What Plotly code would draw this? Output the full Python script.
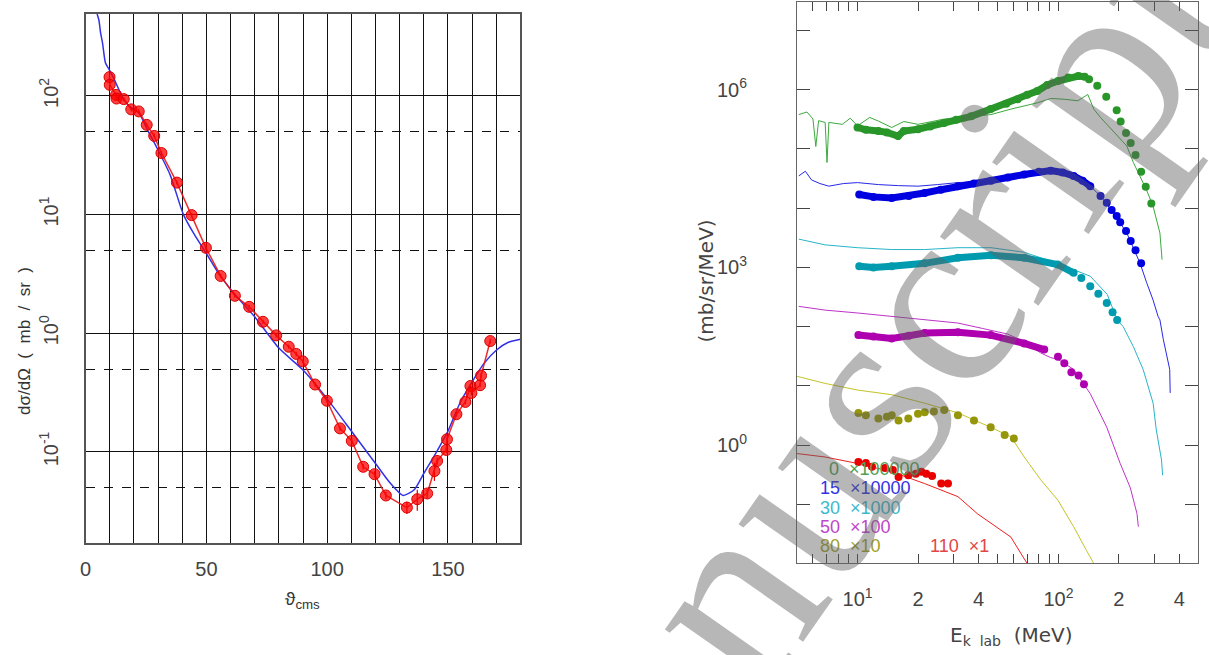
import plotly.graph_objects as go

W, H = 1209, 655

# ---------------- Left panel data ----------------
theta_exp = [9.9, 10.0, 12.6, 12.8, 15.8, 18.9, 22.0, 25.3, 28.4, 31.4, 37.8, 43.9, 49.8, 55.9,
             61.8, 67.7, 73.4, 78.9, 84.1, 87.2, 89.9, 95.0, 99.9, 105.3, 110.2, 114.9, 119.6,
             124.3, 133.0, 137.3, 141.4, 144.4, 145.5, 149.3, 149.6, 153.5, 157.2, 159.3, 159.7,
             163.3, 163.7, 167.5]
xs_exp = [144, 124, 102, 95, 94, 77, 74, 57, 46, 33, 18.6, 9.9, 5.25, 3.04,
          2.07, 1.67, 1.25, 0.96, 0.77, 0.67, 0.58, 0.37, 0.27, 0.158, 0.124, 0.075, 0.065,
          0.043, 0.034, 0.040, 0.0447, 0.069, 0.084, 0.104, 0.128, 0.208, 0.264, 0.36, 0.314,
          0.365, 0.44, 0.86]
xs_err = [6, 5, 4, 4, 4, 3, 3, 2, 2, 1.3, 0.7, 0.4, 0.2, 0.12,
          0.08, 0.07, 0.05, 0.04, 0.03, 0.03, 0.02, 0.015, 0.01, 0.007, 0.006, 0.004, 0.004,
          0.003, 0.004, 0.008, 0.004, 0.012, 0.006, 0.006, 0.007, 0.01, 0.012, 0.015, 0.014,
          0.015, 0.02, 0.04]

theta_th = [4.4, 4.8, 5.5, 6.2, 7.0, 8.2, 9.6, 12, 15.1, 18, 22, 26, 30, 35, 40.5, 45, 50, 55,
            62, 70, 80, 90, 100, 110, 120, 126, 131.4, 136, 140, 145, 150, 155, 160, 165, 170,
            175, 180]
xs_th = [900, 490, 436, 340, 280, 190, 169, 136, 99, 82, 72, 50, 35, 21.6, 10, 6.8, 4.7, 3.2,
         2.1, 1.38, 0.75, 0.49, 0.28, 0.15, 0.08, 0.055, 0.043, 0.048, 0.066, 0.098, 0.15,
         0.26, 0.39, 0.56, 0.72, 0.84, 0.89]

left_y_ticks = [0.1, 1, 10, 100]
left_y_text = ["10<sup>-1</sup>", "10<sup>0</sup>", "10<sup>1</sup>", "10<sup>2</sup>"]
left_y_dashed = [0.05, 0.5, 5, 50]
left_x_ticks = list(range(0, 181, 10))
left_x_text = [str(v) if v in (0, 50, 100, 150) else "" for v in left_x_ticks]

# ---------------- Right panel data ----------------
green_line_E = [5.1, 5.6, 6.0, 6.2, 6.4, 6.9, 7.05, 7.2, 8.4, 9.2, 10, 11.5, 12.7, 14.8, 17, 20,
                27.1, 34.1, 46.2, 58, 78.5, 91.5, 106.7, 125, 140, 150, 162, 196, 219, 236,
                255, 275, 296, 320, 328]
green_line_y = [3.8e5, 4.2e5, 3.2e5, 1.1e5, 3.0e5, 2.8e5, 5.9e4, 2.8e5, 2.6e5, 3.3e5, 2.45e5,
                3.4e5, 2.95e5, 2.3e5, 2.9e5, 2.6e5, 3.2e5, 3.4e5, 3.8e5, 4.7e5, 6.0e5, 7.1e5,
                6.9e5, 6.5e5, 8.3e5, 4.7e5, 3.4e5, 1.66e5, 1.12e5, 5.9e4, 3.5e4, 2.0e4, 1.07e4,
                3.8e3, 1.35e3]
green_dense_E = [10, 11, 12.7, 14, 15.9, 17, 20, 23, 27, 31, 36.8, 46, 55, 62.7, 70, 78.5, 88,
                 99.5, 112, 125.6, 135]
green_dense_y = [2.3e5, 2.1e5, 2.0e5, 1.9e5, 1.65e5, 2.0e5, 2.15e5, 2.4e5, 2.75e5, 3.1e5,
                 3.55e5, 4.7e5, 5.8e5, 6.9e5, 8.2e5, 9.5e5, 1.2e6, 1.4e6, 1.6e6, 1.7e6, 1.65e6]
green_dots_E = [142, 156, 173, 195, 204, 217, 229, 242, 258, 272, 290]
green_dots_y = [1.5e6, 1.17e6, 7.6e5, 4.5e5, 2.9e5, 1.86e5, 1.26e5, 7.9e4, 4.1e4, 2.3e4, 1.2e4]

blue_line_E = [5.1, 5.5, 5.9, 6.5, 7.2, 8.5, 10, 12.7, 16, 20, 25, 31.6, 46.2, 67.6, 91.5, 119,
               144, 162, 188, 219, 255, 275, 296, 313, 320, 333, 358, 360]
blue_line_y = [3.5e4, 4.2e4, 3.0e4, 2.6e4, 2.35e4, 2.6e4, 2.7e4, 2.5e4, 2.4e4, 2.35e4, 2.5e4,
               2.7e4, 2.9e4, 3.5e4, 4.1e4, 3.5e4, 2.35e4, 1.6e4, 8.3e3, 3.8e3, 1.17e3, 550,
               280, 150, 130, 60, 19, 7.6]
blue_dense_E = [10.2, 12, 14.8, 18, 21.6, 26, 31.6, 38, 46.2, 56, 67.6, 80, 91.5, 105, 119,
                132, 144]
blue_dense_y = [1.7e4, 1.55e4, 1.48e4, 1.6e4, 1.8e4, 2.05e4, 2.35e4, 2.6e4, 2.9e4, 3.3e4,
                3.7e4, 4.1e4, 4.3e4, 4.0e4, 3.5e4, 2.9e4, 2.35e4]
blue_dots_E = [162, 174, 184, 195, 203, 217, 229, 242, 258]
blue_dots_y = [1.6e4, 1.23e4, 9.3e3, 7.4e3, 5.8e3, 4.1e3, 2.8e3, 1.95e3, 1.17e3]

teal_line_E = [5.1, 6.9, 10, 14.8, 21.6, 31.6, 46.2, 67.6, 99, 144, 175, 196, 210, 236, 264,
               296, 307, 326, 330]
teal_line_y = [3.0e3, 2.4e3, 2.15e3, 2.0e3, 2.0e3, 2.15e3, 2.15e3, 1.8e3, 1.17e3, 710, 350,
               130, 100, 46, 19, 5.1, 1.8, 0.56, 0.31]
teal_dense_E = [10.2, 12, 14.8, 21.6, 31.6, 46.2, 67.6, 99, 119]
teal_dense_y = [1.05e3, 1.0e3, 1.05e3, 1.17e3, 1.45e3, 1.6e3, 1.45e3, 1.12e3, 810]
teal_dots_E = [130, 144, 158, 174, 186, 196]
teal_dots_y = [660, 480, 360, 250, 175, 130]

purple_line_E = [5.1, 6.9, 10, 14.8, 21.6, 31.6, 42, 55.8, 67.6, 81.6, 91.5, 99.5, 119, 144,
                 174, 203, 228, 246, 250]
purple_line_y = [220, 190, 170, 150, 130, 115, 93, 75, 56, 36, 30, 28, 19, 7.4, 2.0, 0.49,
                 0.19, 0.07, 0.042]
purple_dense_E = [10.1, 12, 14.8, 18, 21.6, 31.6, 46, 67.6, 85]
purple_dense_y = [72, 68, 63, 70, 78, 80, 72, 52, 41]
purple_dots_E = [99.5, 107, 116, 126, 134]
purple_dots_y = [31, 24, 17, 15, 10.7]

olive_line_E = [5, 6.9, 10, 14.8, 21.6, 31.6, 46, 58, 67.6, 81.6, 99.5, 119, 138, 150]
olive_line_y = [14.5, 11, 8.5, 7.1, 5.1, 3.5, 2.0, 1.38, 0.63, 0.26, 0.117, 0.042, 0.0166, 0.01]
olive_dots_E = [10.1, 11, 12.7, 14, 14.8, 16, 17.9, 20, 21.6, 24, 27, 31.6, 38, 46, 54, 60]
olive_dots_y = [3.5, 3.2, 2.8, 3.0, 3.2, 2.6, 2.8, 3.4, 3.6, 3.7, 3.9, 3.2, 2.6, 2.0, 1.48, 1.29]

red_line_E = [5, 6.9, 10, 14.8, 21.6, 31.6, 39.6, 46, 58, 67.6, 70]
red_line_y = [0.72, 0.63, 0.49, 0.355, 0.224, 0.135, 0.069, 0.048, 0.028, 0.012, 0.01]
red_dots_E = [10.1, 11, 11.8, 13.7, 15, 16, 17.9, 19.5, 20.8, 22, 23.5, 26.1, 28.2]
red_dots_y = [0.52, 0.5, 0.43, 0.41, 0.38, 0.29, 0.31, 0.33, 0.355, 0.33, 0.30, 0.224, 0.224]

right_x_ticks = [6, 7, 8, 9, 10, 20, 30, 40, 50, 60, 70, 80, 90, 100, 200, 300, 400]
right_x_text = ["", "", "", "", "10<sup>1</sup>", "2", "", "4", "", "", "", "", "",
                "10<sup>2</sup>", "2", "", "4"]
right_y_ticks = [0.01, 0.1, 1, 10, 100, 1e3, 1e4, 1e5, 1e6, 1e7]
right_y_text = ["", "", "10<sup>0</sup>", "", "", "10<sup>3</sup>", "", "", "10<sup>6</sup>", ""]

legend_labels = ["0  \u00d7100000", "15  \u00d710000", "30  \u00d71000", "50  \u00d7100",
                 "80  \u00d710", "110  \u00d71"]

# ---------------- colours ----------------
C_GREEN_L, C_GREEN_D = "rgb(60,170,60)", "rgb(40,150,40)"
C_BLUE_L, C_BLUE_D = "rgb(40,40,230)", "rgb(0,0,225)"
C_TEAL_L, C_TEAL_D = "rgb(40,180,200)", "rgb(0,155,175)"
C_PURP_L, C_PURP_D = "rgb(190,50,200)", "rgb(175,0,175)"
C_OLIV_L, C_OLIV_D = "rgb(195,195,40)", "rgb(150,150,10)"
C_RED_L, C_RED_D = "rgb(240,30,30)", "rgb(235,0,0)"

fig = go.Figure()

# Left panel
fig.add_trace(go.Scatter(x=theta_th, y=xs_th, mode="lines", line=dict(color="rgb(50,50,230)", width=1.5, shape="spline", smoothing=0.6),
                         xaxis="x", yaxis="y", showlegend=False, hoverinfo="skip"))
fig.add_trace(go.Scatter(x=theta_exp, y=xs_exp, mode="lines+markers",
                         line=dict(color="rgba(235,20,20,0.9)", width=1.5),
                         marker=dict(color="rgba(255,0,0,0.75)", size=11, line=dict(color="rgb(220,0,0)", width=1)),
                         error_y=dict(type="data", array=xs_err, color="rgb(220,0,0)", thickness=1.2, width=0),
                         xaxis="x", yaxis="y", showlegend=False))

# Right panel series
def add_line(E, y, color, width=1.0):
    fig.add_trace(go.Scatter(x=E, y=y, mode="lines", line=dict(color=color, width=width),
                             xaxis="x2", yaxis="y2", showlegend=False))

def add_dense(E, y, color):
    fig.add_trace(go.Scatter(x=E, y=y, mode="lines+markers", line=dict(color=color, width=7),
                             marker=dict(color=color, size=8),
                             xaxis="x2", yaxis="y2", showlegend=False))

def add_dots(E, y, color):
    fig.add_trace(go.Scatter(x=E, y=y, mode="markers", marker=dict(color=color, size=8),
                             xaxis="x2", yaxis="y2", showlegend=False))

add_line(green_line_E, green_line_y, C_GREEN_L)
add_dense(green_dense_E, green_dense_y, C_GREEN_D)
add_dots(green_dots_E, green_dots_y, C_GREEN_D)
add_line(blue_line_E, blue_line_y, C_BLUE_L)
add_dense(blue_dense_E, blue_dense_y, C_BLUE_D)
add_dots(blue_dots_E, blue_dots_y, C_BLUE_D)
add_line(teal_line_E, teal_line_y, C_TEAL_L)
add_dense(teal_dense_E, teal_dense_y, C_TEAL_D)
add_dots(teal_dots_E, teal_dots_y, C_TEAL_D)
add_line(purple_line_E, purple_line_y, C_PURP_L)
add_dense(purple_dense_E, purple_dense_y, C_PURP_D)
add_dots(purple_dots_E, purple_dots_y, C_PURP_D)
add_line(olive_line_E, olive_line_y, C_OLIV_L)
add_dots(olive_dots_E, olive_dots_y, C_OLIV_D)
add_line(red_line_E, red_line_y, C_RED_L)
add_dots(red_dots_E, red_dots_y, C_RED_D)

def px(xp):
    return xp / W

def py(yp):
    return 1 - yp / H

FONT = "Liberation Sans, Arial, sans-serif"
RFONT = "DejaVu Sans, Liberation Sans, sans-serif"

fig.update_layout(
    width=W, height=H, margin=dict(l=0, r=0, t=0, b=0),
    paper_bgcolor="white", plot_bgcolor="white",
    font=dict(family=FONT, color="#333"),
    xaxis=dict(domain=[px(80), px(517)], range=[0, 180], tickvals=left_x_ticks, ticktext=left_x_text,
               showgrid=True, gridcolor="#111", gridwidth=1, zeroline=False, ticks="",
               showline=True, mirror=True, linecolor="#555", linewidth=1.5,
               tickfont=dict(size=20, color="#444"), ticklabelstandoff=7, anchor="y"),
    yaxis=dict(domain=[py(543), py(14)], type="log", range=[-1.767, 2.69],
               tickvals=left_y_ticks, ticktext=left_y_text, tickangle=-90,
               showgrid=True, gridcolor="#111", gridwidth=1, zeroline=False, ticks="",
               minor=dict(tickvals=left_y_dashed, showgrid=True, gridcolor="#111", griddash="dash", gridwidth=1, ticks=""),
               showline=True, mirror=True, linecolor="#555", linewidth=1.5,
               tickfont=dict(size=20, color="#444"), ticklabelstandoff=18, anchor="x"),
    xaxis2=dict(domain=[px(795), px(1198)], type="log", range=[0.699, 2.695],
                tickvals=right_x_ticks, ticktext=right_x_text, ticks="inside", ticklen=9,
                tickcolor="#444", showgrid=False, zeroline=False, showline=True, mirror="ticks",
                linecolor="#666", linewidth=1.2, tickfont=dict(size=20, color="#444"),
                ticklabelstandoff=18, anchor="y2"),
    yaxis2=dict(domain=[py(563), py(2)], type="log", range=[-1.99, 7.48],
                tickvals=right_y_ticks, ticktext=right_y_text, ticks="inside", ticklen=13,
                tickcolor="#444", showgrid=False, zeroline=False, showline=True, mirror="ticks",
                linecolor="#666", linewidth=1.2, tickfont=dict(size=20, color="#444"),
                ticklabelstandoff=45, anchor="x2"),
)

ann = []
def add_ann(xp, yp, text, size, color, angle=0, xanchor="center", family=None):
    f = dict(size=size, color=color)
    if family:
        f["family"] = family
    ann.append(dict(x=px(xp), y=py(yp), xref="paper", yref="paper", text=text, textangle=angle,
                    xanchor=xanchor, yanchor="middle", showarrow=False, font=f))

# axis titles
add_ann(18, 341, "d\u03c3/d\u03a9  (  mb  /  sr  )", 17, "#333", angle=-90)
add_ann(298, 600, "\u03d1<sub>cms</sub>", 19, "#333")
add_ann(703, 281, "(mb/sr/MeV)", 20, "#444", angle=-90, family=RFONT)
add_ann(1011, 636, "E<sub>k  lab</sub>  (MeV)", 20, "#444", family=RFONT)
# legend inside right panel
leg_pos = [(825, 469), (816, 488), (816, 508), (816, 527), (816, 546), (927, 546)]
leg_col = ["rgb(80,160,80)", "rgb(50,50,230)", "rgb(60,185,205)", "rgb(190,70,200)",
           "rgb(160,160,40)", "rgb(225,70,70)"]
for lab, (lx, ly), col in zip(legend_labels, leg_pos, leg_col):
    add_ann(lx, ly, lab, 18, col, xanchor="left")
# watermark
add_ann(828, 450, "Manuscript", 262, "rgba(95,95,95,0.45)", angle=-55,
        family="Liberation Serif, Times New Roman, serif")
fig.update_layout(annotations=ann)

fig.write_html("out.html", config={"displayModeBar": False},
               post_script="document.body.style.margin='0';document.body.style.overflow='hidden';")
